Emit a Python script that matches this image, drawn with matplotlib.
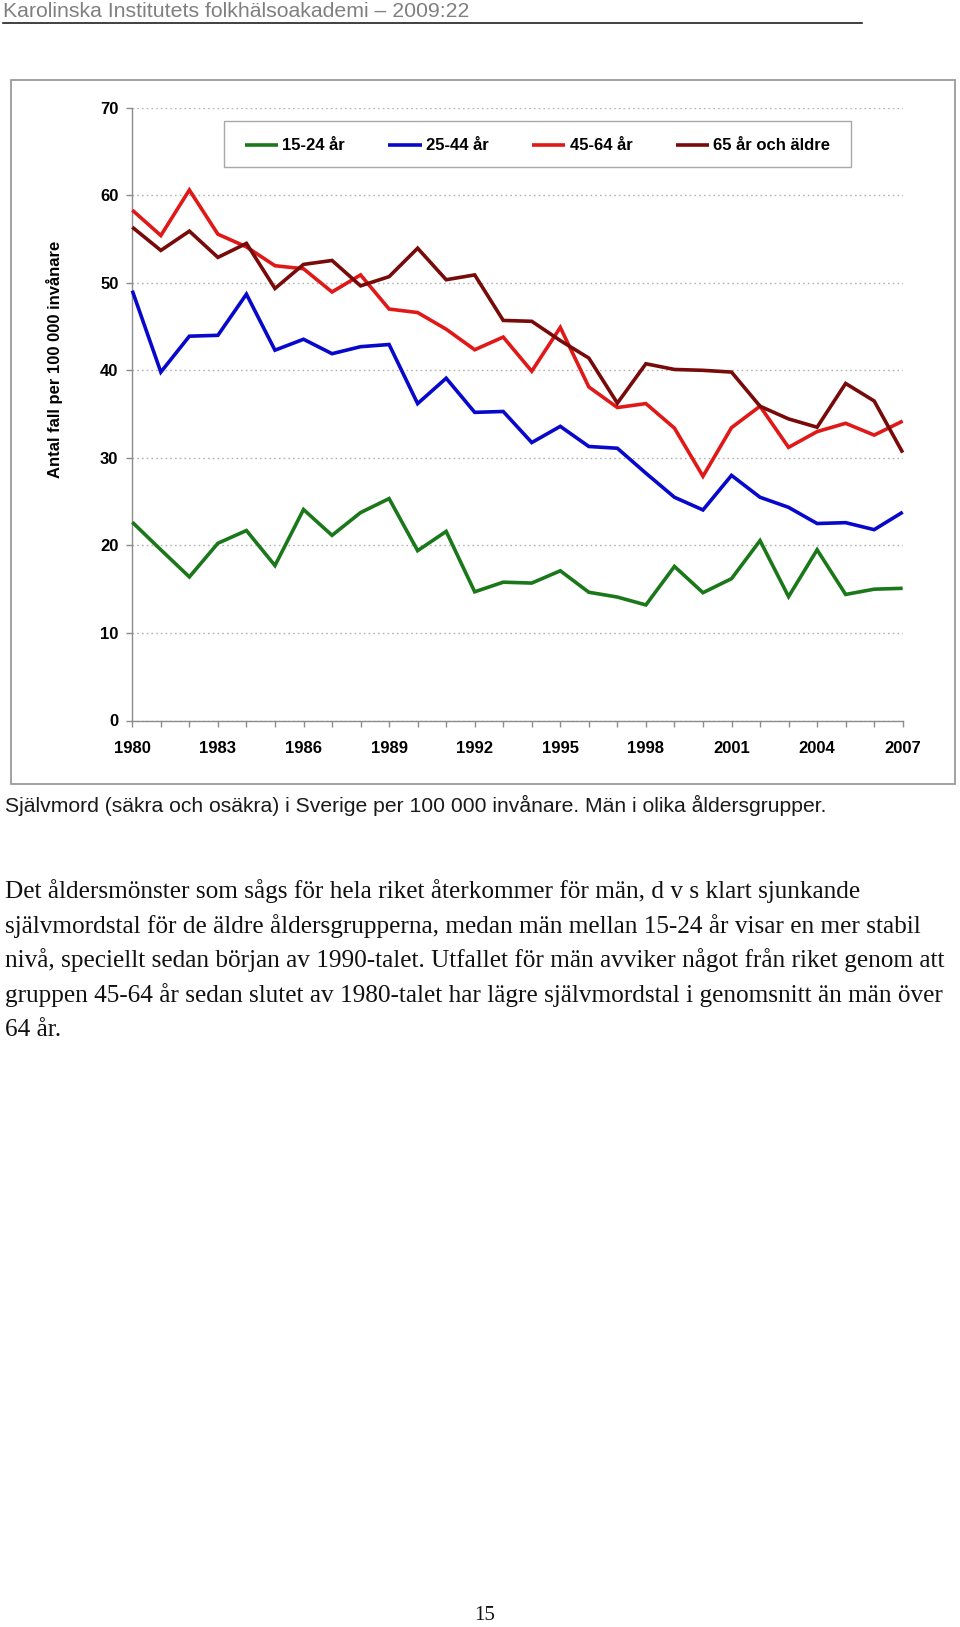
import matplotlib
matplotlib.use('Agg')
import matplotlib.pyplot as plt
from matplotlib import font_manager
from matplotlib.patches import Rectangle
from matplotlib.lines import Line2D

# ---------------- data ----------------
years = list(range(1980, 2008))
age_15_24 = [22.65, 19.5, 16.4, 20.25, 21.7, 17.7, 24.1, 21.15, 23.75, 25.35,
             19.4, 21.6, 14.7, 15.8, 15.7, 17.1, 14.65, 14.1, 13.2, 17.6,
             14.6, 16.2, 20.55, 14.15, 19.5, 14.4, 15.0, 15.1]
age_25_44 = [49.1, 39.8, 43.9, 44.0, 48.7, 42.3, 43.55, 41.9, 42.7, 42.95,
             36.2, 39.1, 35.2, 35.3, 31.75, 33.6, 31.3, 31.1, 28.25, 25.5,
             24.05, 28.0, 25.5, 24.35, 22.5, 22.6, 21.8, 23.8]
age_45_64 = [58.3, 55.4, 60.6, 55.55, 54.1, 51.95, 51.6, 48.95, 50.9, 47.0,
             46.6, 44.7, 42.35, 43.8, 39.9, 44.9, 38.1, 35.75, 36.2, 33.4,
             27.9, 33.45, 35.9, 31.2, 33.0, 33.95, 32.6, 34.2]
age_65_plus = [56.35, 53.7, 55.9, 52.9, 54.5, 49.35, 52.1, 52.55, 49.65, 50.7,
               53.95, 50.35, 50.9, 45.7, 45.6, 43.4, 41.4, 36.25, 40.75, 40.1,
               40.0, 39.8, 35.9, 34.45, 33.5, 38.5, 36.5, 30.6]
series_labels = ['15-24 år', '25-44 år', '45-64 år', '65 år och äldre']
series_colors = ['#1a781a', '#0808cc', '#e01818', '#780a0a']
xtick_years = [1980, 1983, 1986, 1989, 1992, 1995, 1998, 2001, 2004, 2007]
ytick_values = [0, 10, 20, 30, 40, 50, 60, 70]

header_text = 'Karolinska Institutets folkhälsoakademi – 2009:22'
ylabel_text = 'Antal fall per 100 000 invånare'
caption_text = ('Självmord (säkra och osäkra) i Sverige per 100 000 invånare. '
                'Män i olika åldersgrupper.')
paragraph_lines = [
    'Det åldersmönster som sågs för hela riket återkommer för män, d v s klart sjunkande',
    'självmordstal för de äldre åldersgrupperna, medan män mellan 15-24 år visar en mer stabil',
    'nivå, speciellt sedan början av 1990-talet. Utfallet för män avviker något från riket genom att',
    'gruppen 45-64 år sedan slutet av 1980-talet har lägre självmordstal i genomsnitt än män över',
    '64 år.',
]
page_number = '15'

# ---------------- layout helpers ----------------
W, H = 960, 1627


def fx(px):
    return px / W


def fy(py):
    return 1 - py / H


def has_font(name):
    try:
        font_manager.findfont(name, fallback_to_default=False)
        return True
    except Exception:
        return False


plt.rcParams['font.family'] = ['Liberation Sans', 'DejaVu Sans']
narrow = 'Liberation Sans Narrow' if has_font('Liberation Sans Narrow') else 'Liberation Sans'
serif = 'Liberation Serif' if has_font('Liberation Serif') else 'DejaVu Serif'

fig = plt.figure(figsize=(W / 100, H / 100), dpi=100)
fig.patch.set_facecolor('white')
renderer = fig.canvas.get_renderer()


def text_width(s, fs, **kw):
    t = fig.text(0, 0, s, fontsize=fs, **kw)
    w = t.get_window_extent(renderer).width
    t.remove()
    return w


def fit_size(s, target_w, **kw):
    return 10 * target_w / text_width(s, 10, **kw)


# ---------------- header ----------------
fs_head = fit_size(header_text, 468, family=narrow)
fig.text(fx(3), fy(11.5), header_text, fontsize=fs_head, family=narrow,
         color='#808080', ha='left', va='center')
fig.add_artist(Line2D([fx(3), fx(862)], [fy(23), fy(23)], transform=fig.transFigure,
                      color='#202020', lw=1.2))

# ---------------- outer chart frame ----------------
fig.add_artist(Rectangle((fx(10.5), fy(784)), fx(955) - fx(10.5), fy(80) - fy(784),
                         transform=fig.transFigure, fill=False,
                         edgecolor='#9a9a9a', lw=1.3))

# ---------------- axes ----------------
ax_l, ax_r, ax_t, ax_b = 132.3, 902.7, 107.7, 720.5
ax = fig.add_axes([fx(ax_l), fy(ax_b), fx(ax_r) - fx(ax_l), fy(ax_t) - fy(ax_b)])
ax.set_facecolor('none')

all_series = [age_15_24, age_25_44, age_45_64, age_65_plus]
handles = []
for vals, lab, col in zip(all_series, series_labels, series_colors):
    ln, = ax.plot(years, vals, color=col, lw=2.6, label=lab, clip_on=False,
                  solid_joinstyle='miter', solid_capstyle='butt', zorder=3)
    handles.append(ln)

ax.set_xlim(1980, 2007)
ax.set_ylim(0, 70)
ax.set_xticks(xtick_years)
ax.set_xticklabels([str(y) for y in xtick_years])
ax.set_xticks(years, minor=True)
ax.set_yticks(ytick_values)
ax.set_yticklabels([str(v) for v in ytick_values])

for sp in ['top', 'right']:
    ax.spines[sp].set_visible(False)
for sp in ['left', 'bottom']:
    ax.spines[sp].set_color('#8c8c8c')
    ax.spines[sp].set_linewidth(1.0)

ax.tick_params(axis='x', which='both', direction='out', length=4, width=1,
               color='#8c8c8c', pad=10.5)
ax.tick_params(axis='y', which='both', direction='out', length=4, width=1,
               color='#8c8c8c', pad=6)
for lbl in ax.get_xticklabels() + ax.get_yticklabels():
    lbl.set_fontsize(12)
    lbl.set_fontweight('bold')

ax.yaxis.grid(True, linestyle=(0, (1.2, 2.2)), color='#b4b4b4', lw=1.0)
ax.set_axisbelow(True)

fig.text(fx(55), fy(359), ylabel_text, rotation=90, ha='center', va='center',
         fontsize=12, fontweight='bold')

leg = ax.legend(handles=handles, loc='center', bbox_to_anchor=(fx(537.5), fy(146)),
                bbox_transform=fig.transFigure, ncol=4, frameon=False,
                prop={'weight': 'bold', 'size': 12},
                handlelength=2.0, handletextpad=0.25, columnspacing=2.6,
                borderpad=0.8)
# legend frame
fig.add_artist(Rectangle((fx(224), fy(167.3)), fx(851) - fx(224), fy(120.7) - fy(167.3),
                         transform=fig.transFigure, fill=False,
                         edgecolor='#a8a8a8', lw=1.0))

# ---------------- caption ----------------
fs_cap = fit_size(caption_text, 826, family=narrow)
fig.text(fx(5), fy(805), caption_text, fontsize=fs_cap, family=narrow,
         color='#1a1a1a', ha='left', va='center')

# ---------------- paragraph ----------------
targets = [861.6, 921.7, 938.4, 941.5]
widths = [text_width(s, 10, family=serif) for s in paragraph_lines[:4]]
fs_par = 10 * sum(targets) / sum(widths)
line_y = [891.5, 926, 960.5, 995.5, 1030]
for txt, yy in zip(paragraph_lines, line_y):
    fig.text(fx(5), fy(yy), txt, fontsize=fs_par, family=serif,
             color='#111111', ha='left', va='center')

# ---------------- page number ----------------
fig.text(fx(485), fy(1615), page_number, fontsize=15, family=serif,
         color='#111111', ha='center', va='center')

fig.savefig('out.png', dpi=100, facecolor='white')
